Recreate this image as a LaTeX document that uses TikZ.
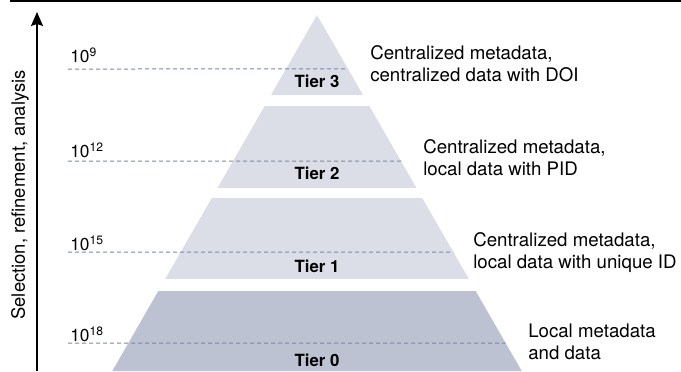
\documentclass[tikz,border=0pt]{standalone}
\usepackage{fontspec}
\setmainfont{TeX Gyre Heros}
\usetikzlibrary{positioning,calc,arrows.meta}

\definecolor{tierlight}{RGB}{219,222,231}
\definecolor{tierdark}{RGB}{189,194,210}
\definecolor{levelgray}{RGB}{122,137,168}

\begin{document}
\begin{tikzpicture}[
  x=0.75pt,y=-0.75pt,
  every node/.style={inner sep=0pt},
  tier-upper/.style={fill=tierlight},
  tier-base/.style={fill=tierdark},
  tier-label/.style={font=\fontsize{12.6}{14}\selectfont\bfseries,anchor=base},
  tier-text/.style={font=\fontsize{14}{16.5}\selectfont,align=left,anchor=north west},
  exp-label/.style={font=\fontsize{13}{14}\selectfont,anchor=base west},
  level-line/.style={draw=levelgray,line width=0.75pt,dash pattern=on 3pt off 2.25pt},
  axis-arrow/.style={draw,line width=1.1pt,-{Stealth[length=10.5pt,width=9pt,inset=1.5pt]}},
  ]

  \useasboundingbox (0,0) rectangle (681,371);

  % rule on top
  \coordinate (rule-left) at (10,0.9);
  \coordinate (rule-right) at (681,0.9);
  \draw[line width=1.35pt] (rule-left) -- (rule-right);

  % pyramid, cut into four bands
  \coordinate (apex) at (317,15);
  \coordinate (base-left) at (112.3,371);
  \coordinate (base-right) at (521.7,371);

  \begin{scope}
    \clip (apex) -- (base-left) -- (base-right) -- cycle;
    \foreach \ya/\yb/\sty in {15/95/tier-upper,106/188/tier-upper,198/279/tier-upper,291/372/tier-base} {
      \fill[\sty] (0,\ya) rectangle (681,\yb);
    }
  \end{scope}

  % volume levels
  \foreach \yy/\ex/\yt in {69/9/62,161/12/157,252/15/250,343/18/341} {
    \pgfmathsetmacro\lvlpos{(\yy-15)/356}
    \node[exp-label] (exp-\ex) at (70,\yt) {10\textsuperscript{\ex}};
    \coordinate (lvl-\ex-start) at (68,\yy);
    \coordinate (lvl-\ex-end) at ($(apex)!\lvlpos!(base-right)$);
    \draw[level-line] (lvl-\ex-start) -- (lvl-\ex-end);
  }

  \node[tier-label] (tier3) at (317,87) {Tier 3};
  \node[tier-label] (tier2) at (317,179) {Tier 2};
  \node[tier-label] (tier1) at (317,272) {Tier 1};
  \node[tier-label] (tier0) at (317,366) {Tier 0};

  \node[tier-text] (tier3-text) at (370,45) {Centralized metadata,\\centralized data with DOI};
  \node[tier-text] (tier2-text) at (423,139) {Centralized metadata,\\local data with PID};
  \node[tier-text] (tier1-text) at (473,232) {Centralized metadata,\\local data with unique ID};
  \node[tier-text] (tier0-text) at (528,324) {Local metadata\\and data};

  % axis
  \coordinate (axis-foot) at (37,371);
  \coordinate (axis-tip) at (37,12);
  \draw[axis-arrow] (axis-foot) -- (axis-tip);
  \node[font=\fontsize{13.8}{16}\selectfont,rotate=90] (axis-label) at (20,195) {Selection, refinement, analysis};

\end{tikzpicture}
\end{document}
